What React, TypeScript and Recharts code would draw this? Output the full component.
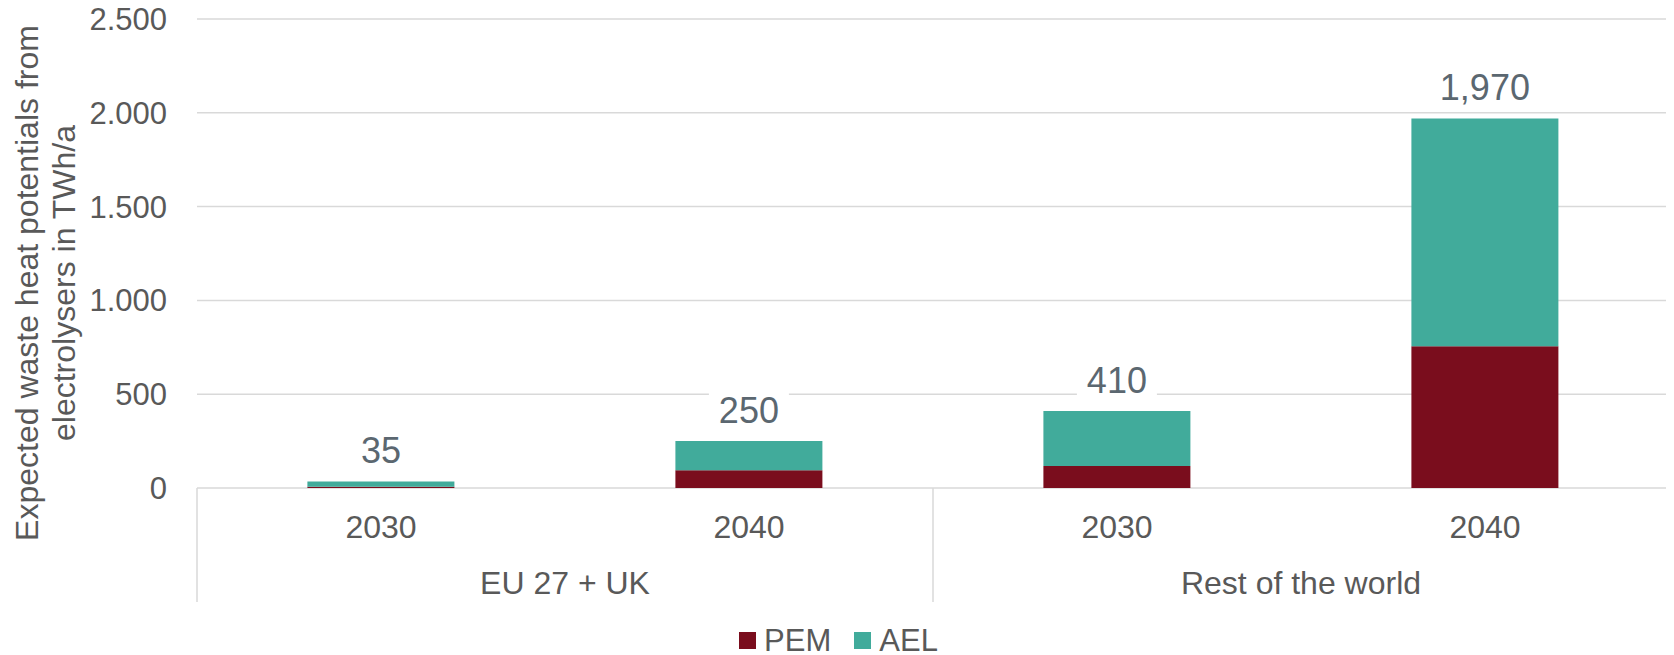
import React from "react";
import { BarChart, Bar, XAxis, YAxis, CartesianGrid, Legend, LabelList } from "recharts";

const categories = ["2030", "2040", "2030", "2040"];
const regions = ["EU 27 + UK", "EU 27 + UK", "Rest of the world", "Rest of the world"];
const pemValues = [7, 94, 117, 756];
const aelValues = [28, 156, 293, 1214];
const totalLabels = ["35", "250", "410", "1,970"];
const yTicks = [0, 500, 1000, 1500, 2000, 2500];
const seriesNames = ["PEM", "AEL"];
const yTitle = ["Expected waste heat potentials from", "electrolysers in TWh/a"];

const FONT = '"Liberation Sans", Arial, Helvetica, sans-serif';
const PEM_COLOR = "#7a0d1d";
const AEL_COLOR = "#41ab9b";
const GRID = "#d9d9d9";
const TEXT = "#595959";
const LABEL = "#5b6770";

const data = categories.map((year, i) => ({
  key: `${regions[i]}|${year}|${i}`,
  year,
  region: regions[i],
  PEM: pemValues[i],
  AEL: aelValues[i],
  total: totalLabels[i],
}));

const fmtTick = (v: number) => String(v).replace(/\B(?=(\d{3})+(?!\d))/g, ".");

const YearTick = (props: any) => {
  const { x, y, index } = props;
  return (
    <text x={x} y={y + 39} textAnchor="middle" dominantBaseline="central" fontSize={32} fill={TEXT} fontFamily={FONT}>
      {categories[index]}
    </text>
  );
};

const RegionTick = (props: any) => {
  const { x, y, payload, index, width, visibleTicksCount } = props;
  const count = visibleTicksCount || 2;
  const half = (width || 1472) / count / 2;
  const top = y - 60;
  const bottom = y + 54;
  return (
    <g>
      <line x1={x - half} x2={x - half} y1={top} y2={bottom} stroke={GRID} strokeWidth={1.5} />
      {index === count - 1 && (
        <line x1={x + half} x2={x + half} y1={top} y2={bottom} stroke={GRID} strokeWidth={1.5} />
      )}
      <text x={x} y={y + 35} textAnchor="middle" dominantBaseline="central" fontSize={32} fill={TEXT} fontFamily={FONT}>
        {payload.value}
      </text>
    </g>
  );
};

const TotalLabel = (props: any) => {
  const { x, y, width, value } = props;
  const cx = x + width / 2;
  const cy = y - 31;
  const w = String(value).length * 20 + 20;
  return (
    <g>
      <rect x={cx - w / 2} y={cy - 20} width={w} height={40} fill="#ffffff" />
      <text x={cx} y={cy} textAnchor="middle" dominantBaseline="central" fontSize={36} fill={LABEL} fontFamily={FONT}>
        {value}
      </text>
    </g>
  );
};

const YTitle = () => (
  <g transform="translate(0,275) rotate(-90)">
    <text textAnchor="middle" fontSize={32} fill={TEXT} fontFamily={FONT}>
      <tspan x={0} y={30}>{yTitle[0]}</tspan>
      <tspan x={0} y={67}>{yTitle[1]}</tspan>
    </text>
  </g>
);

const LegendContent = () => (
  <div
    style={{
      display: "flex",
      justifyContent: "center",
      alignItems: "center",
      height: 53,
      paddingTop: 24,
      boxSizing: "border-box",
      fontFamily: FONT,
    }}
  >
    {[PEM_COLOR, AEL_COLOR].map((c, i) => (
      <div key={i} style={{ display: "flex", alignItems: "center", marginLeft: i === 0 ? 0 : 23 }}>
        <div style={{ width: 17, height: 17, background: c, marginRight: 8 }} />
        <span style={{ fontSize: 31, lineHeight: "29px", color: TEXT }}>{seriesNames[i]}</span>
      </div>
    ))}
  </div>
);

export default function App() {
  return (
    <BarChart
      width={1666}
      height={647}
      data={data}
      margin={{ top: 11, right: 5, left: 0, bottom: 0 }}
      barCategoryGap="30%"
      style={{ fontFamily: FONT }}
    >
      <CartesianGrid xAxisId="b" vertical={false} stroke={GRID} strokeWidth={1.5} />
      <XAxis
        xAxisId="b"
        dataKey="region"
        allowDuplicatedCategory={false}
        axisLine={false}
        tickLine={false}
        tickSize={0}
        tickMargin={0}
        height={54}
        interval={0}
        tick={<RegionTick />}
      />
      <XAxis
        xAxisId="a"
        dataKey="key"
        axisLine={false}
        tickLine={false}
        tickSize={0}
        tickMargin={0}
        height={60}
        interval={0}
        tick={<YearTick />}
      />
      <YAxis
        width={189}
        domain={[0, 2500]}
        ticks={yTicks}
        tickFormatter={fmtTick}
        axisLine={false}
        tickLine={false}
        tickSize={0}
        tickMargin={30}
        interval={0}
        tick={{ fontSize: 31, fill: TEXT, fontFamily: FONT }}
        label={{ content: () => <YTitle /> }}
      />
      <Legend verticalAlign="bottom" align="center" height={53} content={() => <LegendContent />} />
      <Bar xAxisId="a" dataKey="PEM" name={seriesNames[0]} stackId="a" fill={PEM_COLOR} isAnimationActive={false} />
      <Bar xAxisId="a" dataKey="AEL" name={seriesNames[1]} stackId="a" fill={AEL_COLOR} isAnimationActive={false}>
        <LabelList dataKey="total" content={<TotalLabel />} />
      </Bar>
    </BarChart>
  );
}
